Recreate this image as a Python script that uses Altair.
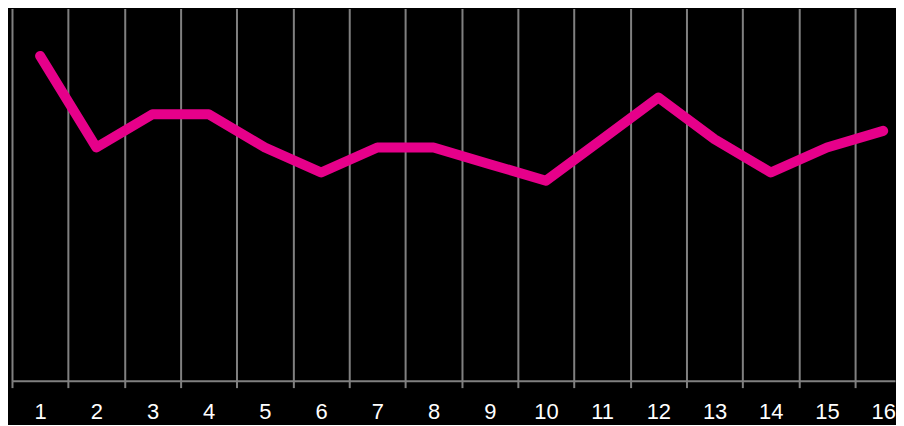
import altair as alt
import pandas as pd

# Categories (x) and series values (y)
weeks = list(range(1, 17))
values = [39, 28, 32, 32, 28, 25, 28, 28, 26, 24, 29, 34, 29, 25, 28, 30]

df = pd.DataFrame({"week": weeks, "value": values})

band_edges = [w - 0.5 for w in weeks]

chart = alt.Chart(df).mark_line(
    color="#E6008A",
    strokeWidth=10,
    strokeCap="round",
    strokeJoin="round",
).encode(
    x=alt.X(
        "week:Q",
        scale=alt.Scale(domain=[0.5, 16.21], nice=False, zero=False),
        axis=alt.Axis(
            values=band_edges,
            grid=True,
            gridColor="#808080",
            gridWidth=2,
            domainColor="#808080",
            domainWidth=2,
            tickColor="#808080",
            tickWidth=2,
            tickSize=7,
            labelExpr="format(datum.value + 0.5, 'd')",
            labelOffset=28.17,
            labelPadding=14,
            labelFontSize=22,
            labelColor="white",
            labelFont="Liberation Sans",
            labelOverlap=False,
            labelFlush=False,
            title=None,
        ),
    ),
    y=alt.Y("value:Q", scale=alt.Scale(domain=[0, 44.7]), axis=None),
).properties(
    width=885,
    height=373,
    background="black",
    padding={"left": 3, "top": 0, "right": 0, "bottom": 2},
    usermeta={"embedOptions": {"defaultStyle": "html, body { background: #000; }"}},
).configure_view(stroke=None)

chart.save("out.html", embed_options={"renderer": "svg", "actions": False})
